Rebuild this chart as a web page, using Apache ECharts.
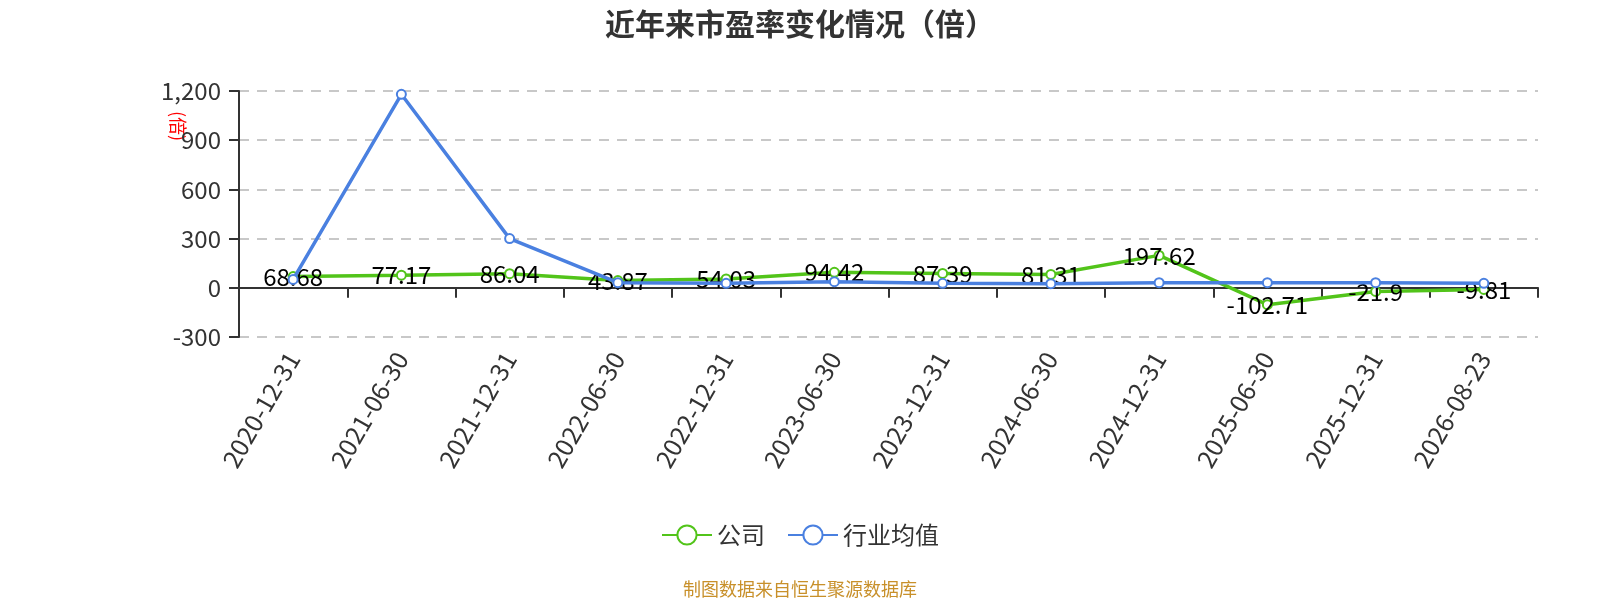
<!DOCTYPE html>
<html>
<head>
<meta charset="utf-8">
<title>近年来市盈率变化情况（倍）</title>
<script src="https://cdn.jsdelivr.net/npm/echarts@6/dist/echarts.min.js"></script>
<style>
  html, body { margin: 0; padding: 0; background: #fff; }
  #chart { width: 1600px; height: 600px; }
</style>
</head>
<body>
<div id="chart"></div>
<script>
var dates = ['2020-12-31', '2021-06-30', '2021-12-31', '2022-06-30', '2022-12-31', '2023-06-30',
             '2023-12-31', '2024-06-30', '2024-12-31', '2025-06-30', '2025-12-31', '2026-08-23'];
var company = [68.68, 77.17, 86.04, 43.87, 54.03, 94.42, 87.39, 81.31, 197.62, -102.71, -21.9, -9.81];
var industry = [51, 1180, 300, 31, 27, 37, 27, 25, 31, 31, 31, 27];
var yTicks = [-300, 0, 300, 600, 900, 1200];

var myChart = echarts.init(document.getElementById('chart'));
var font = '"Noto Sans CJK SC", "Noto Sans", sans-serif';

var option = {
    backgroundColor: '#fff',
    textStyle: { fontFamily: font },
    title: {
        text: '近年来市盈率变化情况（倍）',
        left: 'center',
        top: 4,
        textStyle: { fontSize: 30, fontWeight: 'bold', color: '#333', fontFamily: font }
    },
    legend: {
        bottom: 48,
        left: 'center',
        itemWidth: 50,
        itemHeight: 24,
        itemGap: 22,
        textStyle: { fontSize: 24, color: '#333', fontFamily: font },
        data: ['公司', '行业均值']
    },
    graphic: [{
        type: 'text',
        left: 'center',
        bottom: 2,
        style: {
            text: '制图数据来自恒生聚源数据库',
            fill: '#c8902a',
            font: '18px ' + font
        }
    }, {
        type: 'text',
        x: 187,
        y: 111,
        rotation: -Math.PI / 2,
        style: {
            text: '(倍)',
            fill: '#ff0000',
            font: '18px ' + font
        }
    }],
    grid: {
        left: 239,
        right: 62,
        top: 91,
        bottom: 263
    },
    xAxis: {
        type: 'category',
        data: dates,
        boundaryGap: true,
        axisLine: { onZero: true, lineStyle: { color: '#333', width: 2 } },
        axisTick: { show: true, length: 10, lineStyle: { color: '#333', width: 2 } },
        axisLabel: {
            rotate: 60,
            margin: 17,
            fontSize: 25,
            color: '#333',
            interval: 0
        }
    },
    yAxis: {
        type: 'value',
        min: yTicks[0],
        max: yTicks[yTicks.length - 1],
        interval: 300,
        axisLine: { show: true, lineStyle: { color: '#333', width: 2 } },
        axisTick: { show: true, length: 10, lineStyle: { color: '#333', width: 2 } },
        axisLabel: { fontSize: 24, color: '#333', margin: 18 },
        splitLine: { show: true, lineStyle: { type: [10, 8], color: '#c8c8c8', width: 2 } }
    },
    series: [{
        name: '公司',
        type: 'line',
        data: company,
        symbol: 'emptyCircle',
        symbolSize: 9,
        z: 3,
        lineStyle: { width: 3.5, color: '#52c41a' },
        itemStyle: { color: '#52c41a', borderWidth: 2 },
        label: {
            show: true,
            position: 'inside',
            fontSize: 24,
            color: '#000'
        }
    }, {
        name: '行业均值',
        type: 'line',
        data: industry,
        symbol: 'emptyCircle',
        symbolSize: 9,
        z: 4,
        lineStyle: { width: 3.5, color: '#4a80e0' },
        itemStyle: { color: '#4a80e0', borderWidth: 2 }
    }]
};

myChart.setOption(option);
</script>
</body>
</html>
